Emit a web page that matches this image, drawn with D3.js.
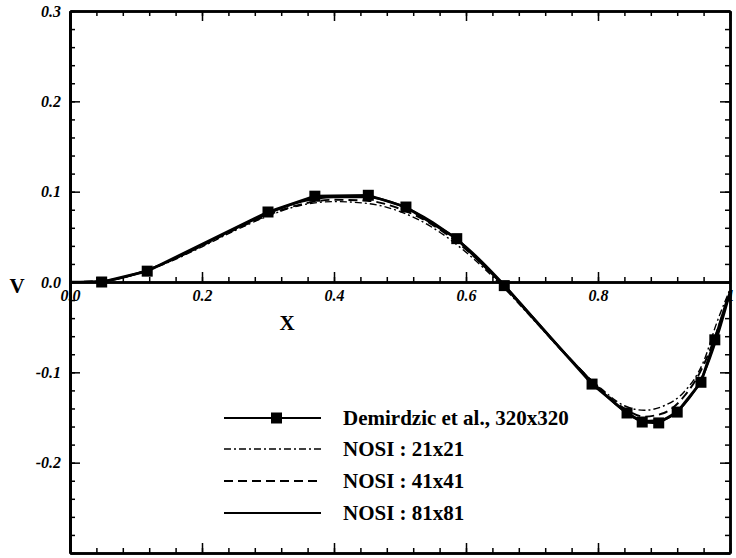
<!DOCTYPE html>
<html>
<head>
<meta charset="utf-8">
<script src="https://cdnjs.cloudflare.com/ajax/libs/d3/7.8.5/d3.min.js"></script>
<style>
  body { margin: 0; background: #fff; }
</style>
</head>
<body>
<script>
'use strict';

// Demirdzic et al. 320x320 reference points (markers)
const demX = [0.048, 0.117, 0.300, 0.371, 0.452, 0.509, 0.586, 0.658, 0.791, 0.844, 0.867, 0.892, 0.920, 0.956, 0.977, 0.997];
const demV = [0.000, 0.012, 0.0775, 0.095, 0.096, 0.083, 0.048, -0.004, -0.113, -0.145, -0.155, -0.156, -0.144, -0.111, -0.064, -0.017];

// NOSI curves, shared x stations
const nosiX = [0, 0.05, 0.1, 0.15, 0.2, 0.25, 0.3, 0.35, 0.4, 0.45, 0.5, 0.55, 0.6, 0.65, 0.7, 0.75, 0.8, 0.84, 0.87, 0.9, 0.93, 0.96, 0.98, 1.0];
const nosi21 = [0, 0.001, 0.009, 0.022, 0.039, 0.057, 0.073, 0.085, 0.089, 0.087, 0.078, 0.060, 0.033, -0.001, -0.040, -0.080, -0.115, -0.137, -0.142, -0.137, -0.122, -0.088, -0.045, -0.008];
const nosi41 = [0, 0.001, 0.009, 0.023, 0.040, 0.058, 0.074, 0.086, 0.091, 0.090, 0.081, 0.063, 0.036, 0.001, -0.039, -0.079, -0.116, -0.140, -0.149, -0.145, -0.127, -0.092, -0.055, -0.010];
const nosi81 = [0, 0.001, 0.009, 0.023, 0.041, 0.059, 0.076, 0.089, 0.094, 0.094, 0.085, 0.066, 0.039, 0.003, -0.038, -0.079, -0.117, -0.143, -0.154, -0.152, -0.136, -0.102, -0.062, -0.012];

const legendLabels = ["Demirdzic et al., 320x320", "NOSI : 21x21", "NOSI : 41x41", "NOSI : 81x81"];

// tick labels
const xTicks = [0, 0.2, 0.4, 0.6, 0.8, 1];
const xTickLabels = ["0.0", "0.2", "0.4", "0.6", "0.8", "1"];
const yTicks = [-0.2, -0.1, 0, 0.1, 0.2, 0.3];
const yTickLabels = ["-0.2", "-0.1", "0.0", "0.1", "0.2", "0.3"];

(function() {

  const plot = {left: 70, right: 730, top: 11, bottom: 553};
  const serif = '"Liberation Serif", "Times New Roman", serif';
  let svgContainer = "";

  window.onload = function() {
    svgContainer = d3.select('body')
      .append('svg')
      .attr('width', 736)
      .attr('height', 558);

    let map = drawAxes();
    plotData(map);
    makeLegend();
    makeLabels();
  }

  function drawAxes() {
    let xScale = d3.scaleLinear().domain([0, 1]).range([plot.left, plot.right]);
    let yScale = d3.scaleLinear().domain([-0.3, 0.3]).range([plot.bottom, plot.top]);

    let xMinor = d3.range(0, 1.0001, 0.04);
    let yMinor = d3.range(-0.3, 0.3001, 0.02);
    let xMajor = d3.range(0, 1.0001, 0.2);
    let yMajor = d3.range(-0.3, 0.3001, 0.1);
    const zeroY = yScale(0);

    // helper: draws one axis with given generator and translate
    function put(gen, tx, ty, width) {
      let g = svgContainer.append('g')
        .attr('transform', 'translate(' + tx + ',' + ty + ')')
        .call(gen);
      g.select('.domain').attr('stroke', '#000').attr('stroke-width', width || 2);
      g.selectAll('.tick line').attr('stroke', '#000').attr('stroke-width', 1.5);
      return g;
    }

    // frame: left, right, top, bottom (ticks pointing inward)
    put(d3.axisRight(yScale).tickValues(yMinor).tickSize(5).tickSizeOuter(0).tickFormat(''), plot.left, 0, 3);
    put(d3.axisRight(yScale).tickValues(yMajor).tickSize(10).tickSizeOuter(0).tickFormat(''), plot.left, 0, 3);
    put(d3.axisLeft(yScale).tickValues(yMinor).tickSize(5).tickSizeOuter(0).tickFormat(''), plot.right, 0, 2.5);
    put(d3.axisLeft(yScale).tickValues(yMajor).tickSize(10).tickSizeOuter(0).tickFormat(''), plot.right, 0, 2.5);
    put(d3.axisBottom(xScale).tickValues(xMinor).tickSize(5).tickSizeOuter(0).tickFormat(''), 0, plot.top, 2.5);
    put(d3.axisBottom(xScale).tickValues(xMajor).tickSize(10).tickSizeOuter(0).tickFormat(''), 0, plot.top, 2.5);
    put(d3.axisTop(xScale).tickValues(xMinor).tickSize(5).tickSizeOuter(0).tickFormat(''), 0, plot.bottom, 2.5);
    put(d3.axisTop(xScale).tickValues(xMajor).tickSize(10).tickSizeOuter(0).tickFormat(''), 0, plot.bottom, 2.5);

    // x axis along V = 0, ticks pointing up
    put(d3.axisTop(xScale).tickValues(xMinor).tickSize(5).tickSizeOuter(0).tickFormat(''), 0, zeroY, 2.5);
    put(d3.axisTop(xScale).tickValues(xMajor).tickSize(10).tickSizeOuter(0).tickFormat(''), 0, zeroY, 2.5);

    // tick labels
    let xl = svgContainer.append('g')
      .attr('transform', 'translate(0,' + zeroY + ')')
      .attr('font-family', serif)
      .attr('font-size', 16)
      .call(d3.axisBottom(xScale).tickValues(xTicks).tickSize(0).tickPadding(8)
        .tickFormat((d, i) => xTickLabels[i]));
    xl.select('.domain').remove();

    let yl = svgContainer.append('g')
      .attr('transform', 'translate(' + (plot.left - 1) + ',0)')
      .call(d3.axisLeft(yScale).tickValues(yTicks).tickSize(0).tickPadding(8)
        .tickFormat((d, i) => yTickLabels[i]));
    yl.select('.domain').remove();

    [xl, yl].forEach(function(g) {
      g.attr('font-family', serif).attr('font-size', 16);
      g.selectAll('text')
        .style('font-family', serif)
        .style('font-weight', 'bold')
        .style('font-style', 'italic')
        .style('font-size', '16px')
        .attr('fill', '#000');
    });

    return {x: xScale, y: yScale};
  }

  function plotData(map) {
    let xs = map.x, ys = map.y;

    const series = [
      {v: nosi21, dash: '7,3,2,3', w: 1.4},
      {v: nosi41, dash: '9,5', w: 1.9},
      {v: nosi81, dash: null, w: 2.3}
    ];

    let smooth = d3.line()
      .x(d => xs(d[0]))
      .y(d => ys(d[1]))
      .curve(d3.curveMonotoneX);

    series.forEach(function(s) {
      svgContainer.append('path')
        .datum(nosiX.map((x, i) => [x, s.v[i]]))
        .attr('d', smooth)
        .attr('fill', 'none')
        .attr('stroke', '#000')
        .attr('stroke-width', s.w)
        .attr('stroke-dasharray', s.dash);
    });

    // reference data: straight segments with square markers
    let dem = demX.map((x, i) => [x, demV[i]]);
    let straight = d3.line().x(d => xs(d[0])).y(d => ys(d[1]));
    svgContainer.append('path')
      .datum(dem)
      .attr('d', straight)
      .attr('fill', 'none')
      .attr('stroke', '#000')
      .attr('stroke-width', 2.8);

    svgContainer.selectAll('.sq')
      .data(dem.slice(0, dem.length - 1))
      .enter()
      .append('rect')
        .attr('x', d => xs(d[0]) - 5.5)
        .attr('y', d => ys(d[1]) - 5.5)
        .attr('width', 11)
        .attr('height', 11)
        .attr('fill', '#000');
  }

  function makeLegend() {
    const x0 = 224, x1 = 321, tx = 343;
    const rows = [418, 449, 481, 513];
    const dashes = [null, '7,3,2,3', '9,5', null];
    const widths = [2, 1.3, 1.9, 2];

    rows.forEach(function(y, i) {
      svgContainer.append('line')
        .attr('x1', x0).attr('x2', x1)
        .attr('y1', y).attr('y2', y)
        .attr('stroke', '#000')
        .attr('stroke-width', widths[i])
        .attr('stroke-dasharray', dashes[i]);

      svgContainer.append('text')
        .attr('x', tx)
        .attr('y', y)
        .attr('dy', '0.35em')
        .style('font-family', serif)
        .style('font-weight', 'bold')
        .style('font-size', '21px')
        .text(legendLabels[i]);
    });

    svgContainer.append('rect')
      .attr('x', 271).attr('y', rows[0] - 5.5)
      .attr('width', 11).attr('height', 11)
      .attr('fill', '#000');
  }

  function makeLabels() {
    svgContainer.append('text')
      .attr('x', 17)
      .attr('y', 286)
      .attr('dy', '0.35em')
      .attr('text-anchor', 'middle')
      .style('font-family', serif)
      .style('font-weight', 'bold')
      .style('font-size', '21px')
      .text('V');

    svgContainer.append('text')
      .attr('x', 287)
      .attr('y', 323)
      .attr('dy', '0.35em')
      .attr('text-anchor', 'middle')
      .style('font-family', serif)
      .style('font-weight', 'bold')
      .style('font-size', '21px')
      .text('X');
  }

})();
</script>
</body>
</html>
